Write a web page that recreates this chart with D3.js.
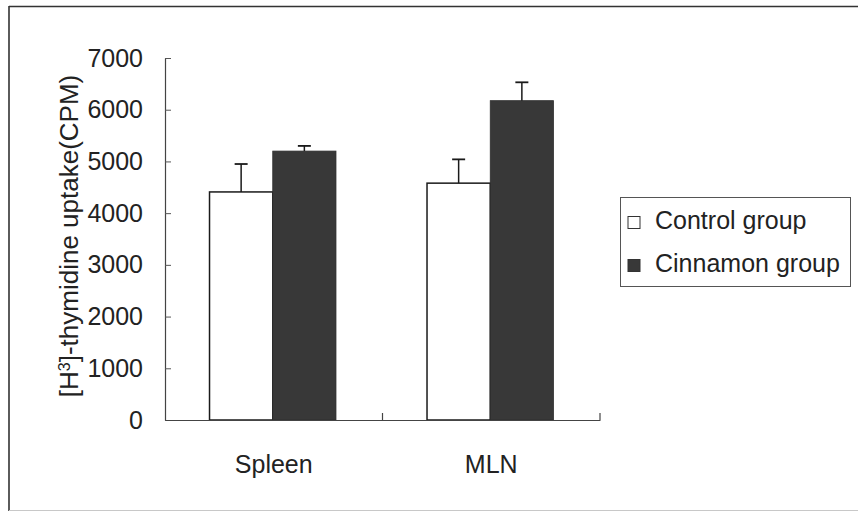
<!DOCTYPE html>
<html>
<head>
<meta charset="utf-8">
<script src="https://cdn.jsdelivr.net/npm/d3@7"></script>
<style>
  html, body { margin: 0; padding: 0; background: #fff; }
  svg { display: block; }
  text { font-family: "Liberation Sans", Arial, sans-serif; fill: #222; }
</style>
</head>
<body>
<svg id="chart" width="859" height="517"></svg>
<script>
// Tissue categories and group series
const categories = ["Spleen", "MLN"];
const seriesNames = ["Control group", "Cinnamon group"];
// Mean [3H]-thymidine uptake (CPM) per tissue, and upward SD
const controlMeans = [4410, 4580];
const controlErrors = [540, 460];
const cinnamonMeans = [5200, 6175];
const cinnamonErrors = [100, 355];
const yTicks = [0, 1000, 2000, 3000, 4000, 5000, 6000, 7000];

const fills = ["#ffffff", "#383838"];
const strokes = ["#1a1a1a", "#2e2e2e"];

const svg = d3.select("#chart");

// outer frame
svg.append("line").attr("x1", 9).attr("y1", 6.5).attr("x2", 858).attr("y2", 6.5)
  .attr("stroke", "#333").attr("stroke-width", 1.6);
svg.append("line").attr("x1", 9).attr("y1", 6).attr("x2", 9).attr("y2", 511)
  .attr("stroke", "#333").attr("stroke-width", 1.6);
svg.append("line").attr("x1", 9).attr("y1", 510.5).attr("x2", 858).attr("y2", 510.5)
  .attr("stroke", "#c8c8c8").attr("stroke-width", 1);

const plot = { left: 165, right: 600, top: 58, bottom: 420 };

const y = d3.scaleLinear().domain([0, 7000]).range([plot.bottom, plot.top]);
const x0 = d3.scaleBand().domain(categories).range([plot.left, plot.right]).padding(0);
const x1 = d3.scaleBand().domain(seriesNames).range([0, x0.bandwidth()])
  .paddingInner(0).paddingOuter(0.72);

const rows = categories.map((c, i) => ({
  cat: c,
  vals: [
    { s: seriesNames[0], v: controlMeans[i], e: controlErrors[i], k: 0 },
    { s: seriesNames[1], v: cinnamonMeans[i], e: cinnamonErrors[i], k: 1 }
  ]
}));

// bars
const groups = svg.append("g").selectAll("g").data(rows).join("g")
  .attr("transform", d => `translate(${x0(d.cat) - 1},0)`);

groups.selectAll("rect").data(d => d.vals).join("rect")
  .attr("x", d => x1(d.s))
  .attr("y", d => y(d.v))
  .attr("width", x1.bandwidth())
  .attr("height", d => y(0) - y(d.v))
  .attr("fill", d => fills[d.k])
  .attr("stroke", d => strokes[d.k])
  .attr("stroke-width", d => d.k === 0 ? 1.5 : 0.8);

// error bars (upper only)
const err = groups.selectAll("g.err").data(d => d.vals).join("g").attr("class", "err");
err.append("line")
  .attr("x1", d => x1(d.s) + x1.bandwidth() / 2)
  .attr("x2", d => x1(d.s) + x1.bandwidth() / 2)
  .attr("y1", d => y(d.v))
  .attr("y2", d => y(d.v + d.e))
  .attr("stroke", "#1a1a1a").attr("stroke-width", 1.5);
err.append("line")
  .attr("x1", d => x1(d.s) + x1.bandwidth() / 2 - 6.5)
  .attr("x2", d => x1(d.s) + x1.bandwidth() / 2 + 6.5)
  .attr("y1", d => y(d.v + d.e))
  .attr("y2", d => y(d.v + d.e))
  .attr("stroke", "#1a1a1a").attr("stroke-width", 1.8);

// y axis
const yAxis = svg.append("g")
  .attr("transform", `translate(${plot.left},0)`)
  .call(d3.axisLeft(y).tickValues(yTicks).tickFormat(d3.format("d"))
    .tickSizeInner(-6).tickSizeOuter(0).tickPadding(22));
yAxis.select(".domain").attr("stroke", "#444").attr("stroke-width", 1.2);
yAxis.selectAll(".tick line").attr("stroke", "#555").attr("stroke-width", 1);
yAxis.selectAll(".tick text").attr("font-size", 25).attr("fill", "#222")
  .attr("font-family", "'Liberation Sans', Arial, sans-serif");

// x axis
const xAxis = svg.append("g")
  .attr("transform", `translate(0,${plot.bottom})`)
  .call(d3.axisBottom(x0).tickSize(0).tickPadding(35));
xAxis.select(".domain").attr("stroke", "#444").attr("stroke-width", 1.2);
xAxis.selectAll(".tick text").attr("font-size", 25).attr("fill", "#222")
  .attr("font-family", "'Liberation Sans', Arial, sans-serif");
// category boundary ticks pointing up into the plot
xAxis.selectAll("line.sep").data(categories).join("line").attr("class", "sep")
  .attr("x1", d => x0(d) + x0.bandwidth()).attr("x2", d => x0(d) + x0.bandwidth())
  .attr("y1", 0).attr("y2", -7)
  .attr("stroke", "#444").attr("stroke-width", 1.2);

// y axis title
const title = svg.append("text")
  .attr("transform", "translate(78,236) rotate(-90)")
  .attr("text-anchor", "middle")
  .attr("font-size", 26);
title.append("tspan").text("[H");
title.append("tspan").text("3").attr("font-size", 16).attr("baseline-shift", "super");
title.append("tspan").text("]-thymidine uptake(CPM)");

// legend
const legend = svg.append("g");
legend.append("rect")
  .attr("x", 620.5).attr("y", 197.5).attr("width", 230).attr("height", 89)
  .attr("fill", "#fff").attr("stroke", "#555").attr("stroke-width", 1);
const items = legend.selectAll("g.item").data(seriesNames).join("g").attr("class", "item")
  .attr("transform", (d, i) => `translate(0,${i * 43})`);
items.append("rect")
  .attr("x", 628).attr("y", 216.5).attr("width", 12).attr("height", 12)
  .attr("fill", (d, i) => fills[i]).attr("stroke", "#333").attr("stroke-width", 1);
items.append("text")
  .attr("x", 655).attr("y", 229)
  .attr("font-size", 25)
  .text(d => d);
</script>
</body>
</html>
